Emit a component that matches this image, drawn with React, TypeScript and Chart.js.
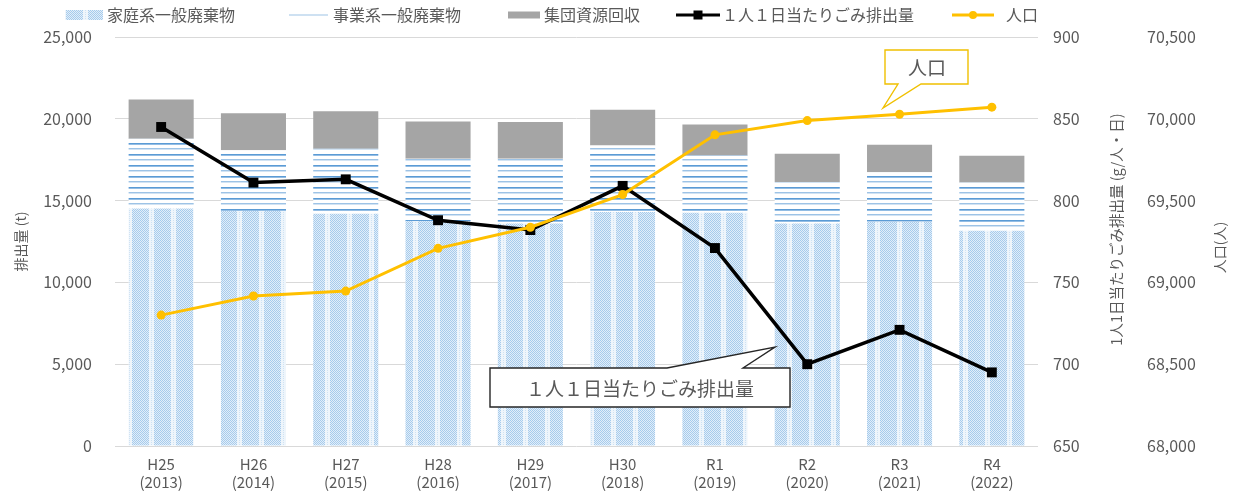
import React, { useEffect, useRef } from "react";
import { Chart, registerables } from "chart.js";
Chart.register(...registerables);

const categories: string[][] = [
  ["H25", "(2013)"], ["H26", "(2014)"], ["H27", "(2015)"], ["H28", "(2016)"], ["H29", "(2017)"],
  ["H30", "(2018)"], ["R1", "(2019)"], ["R2", "(2020)"], ["R3", "(2021)"], ["R4", "(2022)"],
];
const household = [14510, 14370, 14200, 13740, 13600, 14300, 14250, 13600, 13700, 13150];
const business = [4270, 3700, 3970, 3820, 3960, 4070, 3510, 2530, 3040, 2950];
const groupCollection = [2400, 2270, 2290, 2280, 2240, 2180, 1890, 1740, 1670, 1640];
const perCapita = [845, 811, 813, 788, 782, 809, 771, 700, 721, 695];
const population = [68800, 68917, 68947, 69208, 69337, 69537, 69902, 69989, 70028, 70071];

const seriesNames = ["家庭系一般廃棄物", "事業系一般廃棄物", "集団資源回収", "１人１日当たりごみ排出量", "人口"];
const leftTitle = "排出量 (t)";
const rightTitle1 = "1人1日当たりごみ排出量 (g/人・日)";
const rightTitle2 = "人口(人)";
const calloutPop = "人口";
const calloutPer = "１人１日当たりごみ排出量";

const FONT = "'Noto Sans CJK JP', 'Noto Sans', sans-serif";
const TEXT = "#595959";

function makeHouseholdPattern(ctx: CanvasRenderingContext2D) {
  const c = document.createElement("canvas");
  c.width = 22; c.height = 4;
  const g = c.getContext("2d")!;
  g.fillStyle = "#eef5fb";
  g.fillRect(0, 0, 22, 4);
  for (let x = 0; x < 17; x++) {
    for (let y = 0; y < 4; y++) {
      g.fillStyle = (x + y) % 2 === 0 ? "#a6cbec" : "#e2eef9";
      g.fillRect(x, y, 1, 1);
    }
  }
  for (let y = 0; y < 4; y += 2) {
    g.fillStyle = "#cfe2f3";
    g.fillRect(19, y, 1, 1);
  }
  return ctx.createPattern(c, "repeat")!;
}

function makeBusinessPattern(ctx: CanvasRenderingContext2D) {
  const c = document.createElement("canvas");
  c.width = 4; c.height = 11;
  const g = c.getContext("2d")!;
  g.fillStyle = "#ffffff";
  g.fillRect(0, 0, 4, 11);
  g.fillStyle = "#5b9bd5";
  g.fillRect(0, 0, 4, 1);
  g.fillStyle = "#93bde4";
  g.fillRect(0, 1, 4, 1);
  g.fillStyle = "#9dc3e6";
  g.fillRect(0, 5, 4, 1);
  g.fillStyle = "#d2e3f3";
  g.fillRect(0, 6, 4, 1);
  return ctx.createPattern(c, "repeat")!;
}

const fmt = (v: number) => Number(v).toLocaleString("en-US");

export default function App() {
  const ref = useRef<HTMLCanvasElement>(null);
  useEffect(() => {
    const canvas = ref.current!;
    const ctx = canvas.getContext("2d")!;
    const hhPat = makeHouseholdPattern(ctx);
    const bzPat = makeBusinessPattern(ctx);

    const decor = {
      id: "decor",
      afterDraw(chart: any) {
        const c = chart.ctx as CanvasRenderingContext2D;
        const area = chart.chartArea;
        const midY = (area.top + area.bottom) / 2;
        const y1 = chart.scales.y1;
        const y2 = chart.scales.y2;
        c.save();
        c.fillStyle = TEXT;
        c.textAlign = "center";
        c.textBaseline = "middle";
        const vtext = (t: string, x: number, y: number, size: number) => {
          c.save();
          c.translate(x, y);
          c.rotate(-Math.PI / 2);
          c.font = `${size}px ${FONT}`;
          c.fillText(t, 0, 0);
          c.restore();
        };
        vtext(leftTitle, 21, midY, 14);
        vtext(rightTitle1, y1.left + 78, midY - 12, 14.5);
        vtext(rightTitle2, y2.left + 82, midY + 6, 14);

        // legend
        const ly = 15;
        c.font = `16px ${FONT}`;
        c.textAlign = "left";
        c.fillStyle = hhPat;
        c.fillRect(65, ly - 5, 38, 10);
        c.fillStyle = TEXT;
        c.fillText(seriesNames[0], 107, ly);
        c.strokeStyle = "#9dc3e6";
        c.lineWidth = 1.2;
        c.beginPath(); c.moveTo(289, ly); c.lineTo(328, ly); c.stroke();
        c.fillText(seriesNames[1], 333, ly);
        c.fillStyle = "#a5a5a5";
        c.fillRect(508, ly - 3.5, 32, 7);
        c.fillStyle = TEXT;
        c.fillText(seriesNames[2], 544, ly);
        c.strokeStyle = "#000";
        c.lineWidth = 3;
        c.beginPath(); c.moveTo(676, ly); c.lineTo(720, ly); c.stroke();
        c.fillStyle = "#000";
        c.fillRect(698 - 4.5, ly - 4.5, 9, 9);
        c.fillStyle = TEXT;
        c.fillText(seriesNames[3], 722, ly);
        c.strokeStyle = "#ffc000";
        c.beginPath(); c.moveTo(952, ly); c.lineTo(994, ly); c.stroke();
        c.fillStyle = "#ffc000";
        c.beginPath(); c.arc(973, ly, 4, 0, Math.PI * 2); c.fill();
        c.fillStyle = TEXT;
        c.fillText(seriesNames[4], 1006, ly);

        // callout: population
        c.lineWidth = 1.4;
        c.strokeStyle = "#f0c000";
        c.fillStyle = "#ffffff";
        c.beginPath();
        c.moveTo(885, 50); c.lineTo(968, 50); c.lineTo(968, 84); c.lineTo(921, 84);
        c.lineTo(883, 108); c.lineTo(898, 84); c.lineTo(885, 84); c.closePath();
        c.fill(); c.stroke();
        c.fillStyle = TEXT;
        c.font = `19px ${FONT}`;
        c.textAlign = "center";
        c.fillText(calloutPop, 927, 68);

        // callout: per capita
        c.strokeStyle = "#262626";
        c.lineWidth = 1.4;
        c.fillStyle = "#ffffff";
        c.beginPath();
        c.moveTo(490, 368); c.lineTo(667, 368); c.lineTo(775, 347); c.lineTo(743, 368);
        c.lineTo(790, 368); c.lineTo(790, 407); c.lineTo(490, 407); c.closePath();
        c.fill(); c.stroke();
        c.fillStyle = TEXT;
        c.font = `19px ${FONT}`;
        c.fillText(calloutPer, 640, 389);
        c.restore();
      },
    };

    const chart = new Chart(canvas, {
      type: "bar",
      data: {
        labels: categories,
        datasets: [
          { type: "line", label: seriesNames[4], data: population, yAxisID: "y2", order: 0,
            borderColor: "#ffc000", backgroundColor: "#ffc000", borderWidth: 3,
            pointStyle: "circle", pointRadius: 4.5, pointBorderWidth: 0, tension: 0 } as any,
          { type: "line", label: seriesNames[3], data: perCapita, yAxisID: "y1", order: 1,
            borderColor: "#000000", backgroundColor: "#000000", borderWidth: 3.5,
            pointStyle: "rect", pointRadius: 7, pointBorderWidth: 0, tension: 0 } as any,
          { type: "bar", label: seriesNames[0], data: household, yAxisID: "y", stack: "s", order: 2,
            backgroundColor: hhPat, borderWidth: 0 } as any,
          { type: "bar", label: seriesNames[1], data: business, yAxisID: "y", stack: "s", order: 2,
            backgroundColor: bzPat, borderWidth: 0 } as any,
          { type: "bar", label: seriesNames[2], data: groupCollection, yAxisID: "y", stack: "s", order: 2,
            backgroundColor: "#a5a5a5", borderWidth: 0 } as any,
        ],
      },
      options: {
        animation: false,
        responsive: true,
        maintainAspectRatio: false,
        layout: { padding: { top: 37, left: 0, right: 0, bottom: 0 } },
        datasets: { bar: { categoryPercentage: 1, barPercentage: 0.705 } },
        plugins: { legend: { display: false }, tooltip: { enabled: false } },
        scales: {
          x: {
            stacked: true,
            grid: { display: false, drawTicks: false },
            border: { display: false },
            ticks: { color: TEXT, font: { family: FONT, size: 15, lineHeight: 1.2 }, padding: 9, maxRotation: 0, autoSkip: false },
            afterFit: (s: any) => { s.height = 45; },
          },
          y: {
            stacked: true,
            position: "left",
            min: 0, max: 25000,
            grid: { color: "#d9d9d9", drawTicks: false, lineWidth: 1 },
            border: { display: false },
            ticks: { stepSize: 5000, color: TEXT, font: { family: FONT, size: 16 }, padding: 23, callback: (v: any) => fmt(v) },
            afterFit: (s: any) => { s.width = 115; },
          },
          y1: {
            position: "right",
            weight: 0,
            min: 650, max: 900,
            grid: { display: false, drawTicks: false },
            border: { display: false },
            ticks: { stepSize: 50, color: TEXT, font: { family: FONT, size: 16 }, padding: 15, callback: (v: any) => fmt(v) },
            afterFit: (s: any) => { s.width = 100; },
          },
          y2: {
            position: "right",
            weight: 1,
            min: 68000, max: 70500,
            grid: { display: false, drawTicks: false },
            border: { display: false },
            ticks: { stepSize: 500, color: TEXT, font: { family: FONT, size: 16 }, padding: 9, callback: (v: any) => fmt(v) },
            afterFit: (s: any) => { s.width = 106; },
          },
        } as any,
      },
      plugins: [decor],
    });
    return () => chart.destroy();
  }, []);

  return (
    <div style={{ position: "fixed", left: 0, top: 0, width: 1244, height: 491, background: "#fff" }}>
      <canvas ref={ref} />
    </div>
  );
}
